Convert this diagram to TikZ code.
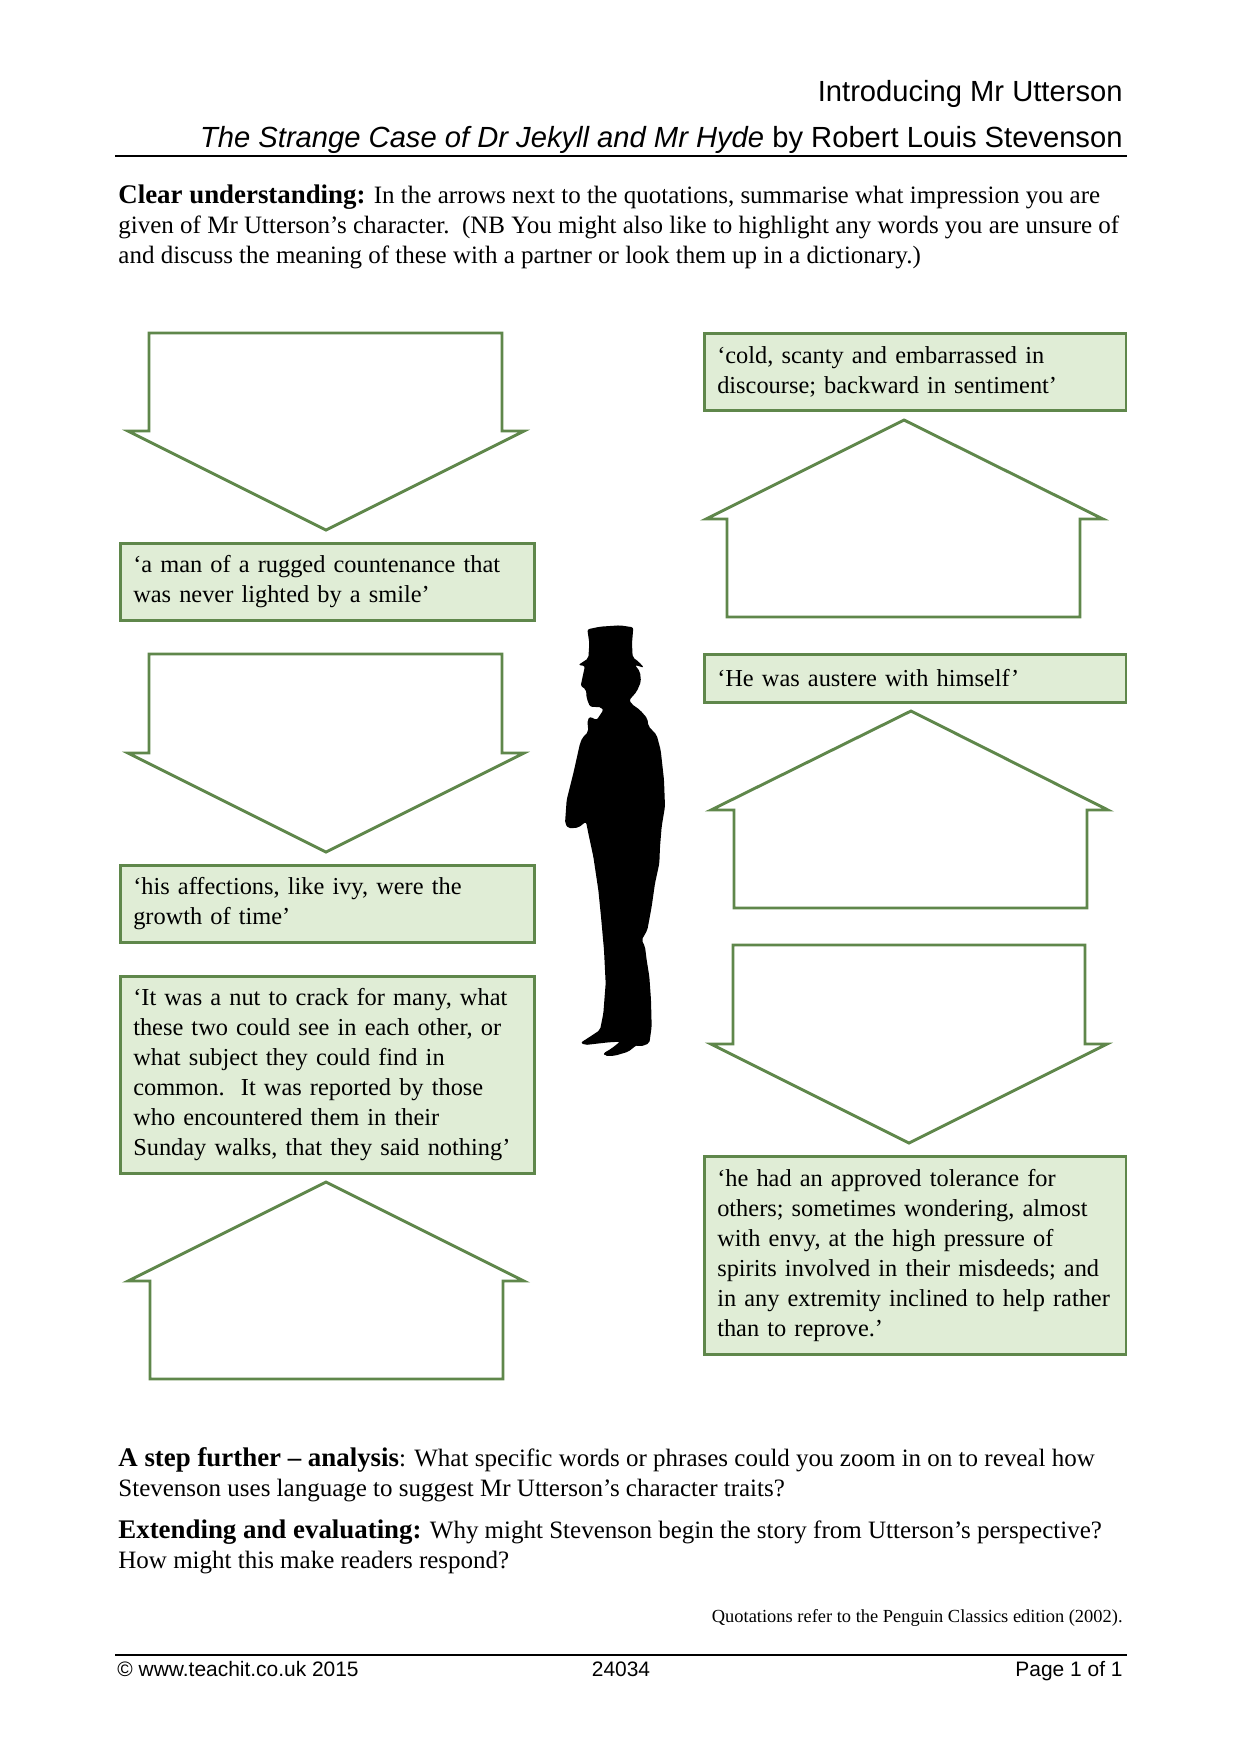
\documentclass[tikz,border=0pt]{standalone}
\usepackage{fontspec}
\setmainfont{Liberation Serif}
\newfontfamily\headfont{Liberation Sans}
\usetikzlibrary{positioning}
\definecolor{utgreen}{RGB}{95,135,75}
\definecolor{utlightgreen}{RGB}{224,237,214}
\newcommand{\lead}[1]{{\fontsize{12.9}{14.4}\selectfont\textbf{#1}}}
\tikzstyle{quote} = [rectangle, anchor=north west, draw=utgreen, fill=utlightgreen, line width=1.3pt, minimum height=1cm, inner xsep=6.2pt, inner ysep=0pt, text width=186.3pt, align=left, font=\fontsize{11.7}{14.4}\selectfont]
\tikzstyle{quoteright} = [quote, text width=190pt]
\tikzstyle{answer} = [draw=utgreen, fill=white, line width=1.4pt, line join=miter, miter limit=20]
\tikzstyle{body} = [anchor=north west, inner sep=0pt, align=left, font=\fontsize{12}{14.4}\selectfont]
\tikzstyle{head} = [anchor=base east, inner sep=0pt, font=\headfont\fontsize{14}{16}\selectfont]
\tikzstyle{foot} = [inner sep=0pt, font=\headfont\fontsize{10.05}{12}\selectfont]
\begin{document}
\begin{tikzpicture}[x=0.48pt,y=-0.48pt]
\useasboundingbox (0,0) rectangle (1240,1754);
% Heading
\node (title) [head] at (1123,101) {Introducing Mr Utterson};
\node (book) [head] at (1123,147) {\textit{The Strange Case of Dr Jekyll and Mr Hyde} by Robert Louis Stevenson};
\draw[line width=0.9pt] (115,156) -- (1127,156);
\node (task) [body] at (118,184) {\lead{Clear understanding:} In the arrows next to the quotations, summarise what impression you are\\given of Mr Utterson’s character.\ \ (NB You might also like to highlight any words you are unsure of\\and discuss the meaning of these with a partner or look them up in a dictionary.)};

% Left column
\draw[answer] (149,333) -- (502,333) -- (502,431) -- (524,431) -- (326,530) -- (128,431) -- (149,431) -- cycle;
\node (rugged) [quote, minimum height=77*0.48pt] at (119,542) {‘a man of a rugged countenance that\\was never lighted by a smile’};
\draw[answer] (149,654) -- (502,654) -- (502,753) -- (524,753) -- (326,852) -- (128,753) -- (149,753) -- cycle;
\node (ivy) [quote, minimum height=77*0.48pt] at (119,864) {‘his affections, like ivy, were the\\growth of time’};
\node (nut) [quote, minimum height=197*0.48pt] at (119,975) {‘It was a nut to crack for many, what\\these two could see in each other, or\\what subject they could find in\\common.\ \ It was reported by those\\who encountered them in their\\Sunday walks, that they said nothing’};
\draw[answer] (326,1182) -- (524,1281) -- (503,1281) -- (503,1379) -- (150,1379) -- (150,1281) -- (128,1281) -- cycle;

% Right column
\node (scanty) [quoteright, minimum height=77*0.48pt] at (703,332) {‘cold, scanty and embarrassed in\\discourse; backward in sentiment’};
\draw[answer] (904,420) -- (1103,519) -- (1080,519) -- (1080,617) -- (727,617) -- (727,519) -- (706,519) -- cycle;
\node (austere) [quoteright, minimum height=48*0.48pt] at (703,653) {‘He was austere with himself’};
\draw[answer] (911,711) -- (1108,810) -- (1087,810) -- (1087,908) -- (734,908) -- (734,810) -- (711,810) -- cycle;
\draw[answer] (733,945) -- (1085,945) -- (1085,1044) -- (1107,1044) -- (909,1143) -- (711,1044) -- (733,1044) -- cycle;
\node (tolerance) [quoteright, minimum height=198*0.48pt] at (703,1155) {‘he had an approved tolerance for\\others; sometimes wondering, almost\\with envy, at the high pressure of\\spirits involved in their misdeeds; and\\in any extremity inclined to help rather\\than to reprove.’};

% Figure in the top hat
\begin{scope}[shift={(540,600)},x=0.16pt,y=-0.16pt]
\fill[black, rounded corners=1pt] (142,88) -- (180,80) -- (240,76) -- (280,82) -- (276,130) -- (278,172) -- (296,185) -- (312,203) -- (285,195) -- (300,215) -- (303,245) -- (290,275) -- (268,300) -- (275,312) -- (300,330) -- (322,355) -- (325,378) -- (350,405) -- (362,450) -- (372,540) -- (375,620) -- (365,680) -- (360,740) -- (358,790) -- (345,850) -- (335,920) -- (322,990) -- (305,1020) -- (315,1040) -- (320,1080) -- (328,1130) -- (333,1200) -- (335,1280) -- (328,1330) -- (300,1340) -- (290,1335) -- (265,1355) -- (225,1367) -- (195,1368) -- (190,1360) -- (215,1345) -- (240,1325) -- (205,1327) -- (135,1335) -- (122,1328) -- (150,1310) -- (180,1290) -- (190,1240) -- (197,1150) -- (192,1050) -- (183,950) -- (175,870) -- (160,770) -- (145,700) -- (138,665) -- (115,683) -- (85,685) -- (75,670) -- (80,600) -- (100,520) -- (120,430) -- (128,412) -- (145,395) -- (142,360) -- (150,350) -- (170,360) -- (190,330) -- (185,322) -- (150,320) -- (140,295) -- (138,268) -- (122,258) -- (130,220) -- (135,198) -- (115,195) -- (145,175) -- (148,130) -- cycle;
\end{scope}

% Further questions
\node (further) [body] at (118,1447) {\lead{A step further – analysis}: What specific words or phrases could you zoom in on to reveal how\\Stevenson uses language to suggest Mr Utterson’s character traits?};
\node (extend) [body] at (118,1519) {\lead{Extending and evaluating:} Why might Stevenson begin the story from Utterson’s perspective?\\How might this make readers respond?};
\node (edition) [anchor=base east, inner sep=0pt, font=\fontsize{8.85}{11}\selectfont] at (1123,1622) {Quotations refer to the Penguin Classics edition (2002).};

% Footer
\draw[line width=0.9pt] (115,1655) -- (1127,1655);
\node (site) [foot, anchor=base west] at (117,1676) {© www.teachit.co.uk 2015};
\node (code) [foot, anchor=base] at (621,1676) {24034};
\node (page) [foot, anchor=base east] at (1123,1676) {Page 1 of 1};
\end{tikzpicture}
\end{document}
